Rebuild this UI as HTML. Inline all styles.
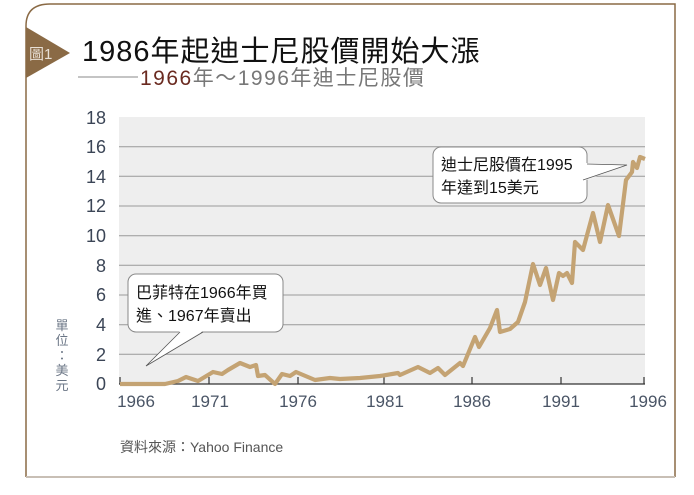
<!DOCTYPE html>
<html><head><meta charset="utf-8"><style>
html,body{margin:0;padding:0;background:#fff;}
svg{display:block;}
text{font-family:"Liberation Sans","Noto Sans CJK TC",sans-serif;}
</style></head><body>
<svg width="694" height="495" viewBox="0 0 694 495">
<path d="M26,477 L26,26 Q26,4 50,4 L675,4 L675,477" fill="none" stroke="#8a6a45" stroke-width="1.5"/>
<line x1="26" y1="477" x2="675" y2="477" stroke="#c8bfb5" stroke-width="2"/>
<polygon points="26,27 26,78 70,53" fill="#8a6a45"/>
<text x="29" y="59" font-size="15" fill="#e8e0d6">圖1</text>
<text x="82" y="61" font-size="29" fill="#111" letter-spacing="1">1986年起迪士尼股價開始大漲</text>
<line x1="78" y1="77" x2="138" y2="77" stroke="#888" stroke-width="1"/>
<text x="140" y="85" font-size="21" fill="#777" letter-spacing="1.5"><tspan fill="#6a2a20">1966</tspan>年～1996年迪士尼股價</text>
<rect x="119" y="117" width="526" height="267" fill="#eeeeee"/>
<g stroke="#999" stroke-width="1">
<line x1="119" x2="645" y1="354.3" y2="354.3"/><line x1="119" x2="645" y1="324.7" y2="324.7"/>
<line x1="119" x2="645" y1="295" y2="295"/><line x1="119" x2="645" y1="265.3" y2="265.3"/>
<line x1="119" x2="645" y1="235.7" y2="235.7"/><line x1="119" x2="645" y1="206" y2="206"/>
<line x1="119" x2="645" y1="176.3" y2="176.3"/><line x1="119" x2="645" y1="146.7" y2="146.7"/>
</g>
<line x1="119" x2="645" y1="384" y2="384" stroke="#333" stroke-width="1.2"/>
<g stroke="#333" stroke-width="1.2">
<line x1="120" x2="120" y1="377" y2="384"/><line x1="209" x2="209" y1="377" y2="384"/>
<line x1="298" x2="298" y1="377" y2="384"/><line x1="384" x2="384" y1="377" y2="384"/>
<line x1="472" x2="472" y1="377" y2="384"/><line x1="561" x2="561" y1="377" y2="384"/>
<line x1="644" x2="644" y1="377" y2="384"/>
</g>
<g font-size="18" fill="#3b4556" text-anchor="end">
<text x="106" y="390">0</text><text x="106" y="361">2</text><text x="106" y="331">4</text>
<text x="106" y="301">6</text><text x="106" y="272">8</text><text x="106" y="242">10</text>
<text x="106" y="212">12</text><text x="106" y="183">14</text><text x="106" y="153">16</text>
<text x="106" y="124">18</text>
</g>
<g font-size="17" fill="#4a5566" text-anchor="middle">
<text x="136" y="407">1966</text><text x="210" y="407">1971</text><text x="298" y="407">1976</text>
<text x="385" y="407">1981</text><text x="472" y="407">1986</text><text x="561" y="407">1991</text>
<text x="648" y="407">1996</text>
</g>
<g font-size="13" fill="#6a7585" text-anchor="middle">
<text x="62" y="330">單</text><text x="62" y="345">位</text><text x="62" y="360">：</text>
<text x="62" y="375">美</text><text x="62" y="390">元</text>
</g>
<text x="120" y="452" font-size="14" fill="#555">資料來源：Yahoo Finance</text>
<polyline fill="none" stroke="#c4a373" stroke-width="4.2" stroke-linejoin="round" points="120,384 165,384 178,381 186,377 198,381 213,372 222,374 228,370 240,363 250,367 256,365 258,376 265,375 275,384 282,374 290,376 296,372 315,380 330,378 340,379 360,378 380,376 398,373 400,375 418,367 430,373 438,368 445,375 460,363 463,366 475,337 479,347 490,328 497,310 500,332 510,329 518,322 525,302 533,264 540,285 546,268 553,300 559,273 563,276 567,273 572,283 575,242 583,250 593,213 600,242 608,205 619,236 626,180 632,172 633,162 637,168 640,157 645,159"/>
<rect x="128" y="274" width="155" height="58" rx="8" fill="#fff" stroke="#888" stroke-width="1"/>
<polygon points="180,331 146,366 203,331" fill="#fff"/>
<polyline points="180,332 146,366 203,332" fill="none" stroke="#555" stroke-width="0.8"/>
<text x="136" y="298" font-size="16" fill="#111">巴菲特在1966年買</text>
<text x="136" y="321" font-size="16" fill="#111">進、1967年賣出</text>
<rect x="433" y="147" width="154" height="56" rx="8" fill="#fff" stroke="#888" stroke-width="1"/>
<polygon points="586,163 627,165 586,180" fill="#fff"/>
<polyline points="587,164 627,165 583,180" fill="none" stroke="#555" stroke-width="0.8"/>
<text x="441" y="170" font-size="16" fill="#111">迪士尼股價在1995</text>
<text x="441" y="193" font-size="16" fill="#111">年達到15美元</text>
</svg>
</body></html>
